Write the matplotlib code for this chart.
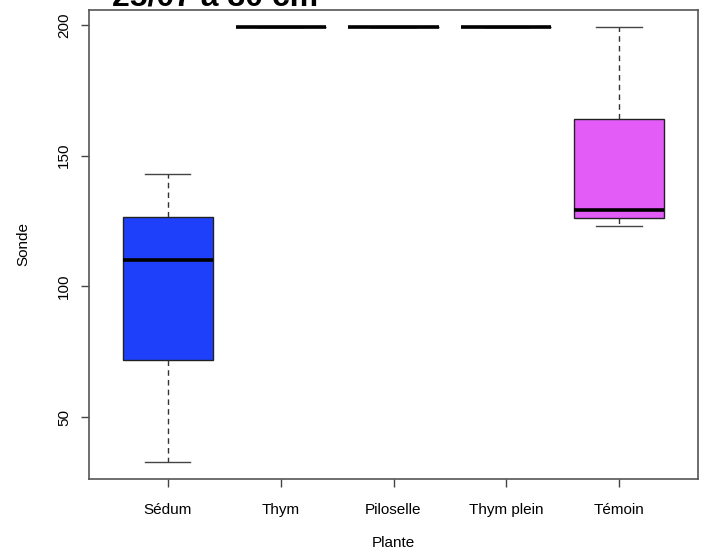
import matplotlib
matplotlib.use("Agg")
import matplotlib.pyplot as plt

plt.rcParams['font.family'] = ['Liberation Sans', 'DejaVu Sans']

categories = ["Sédum", "Thym", "Piloselle", "Thym plein", "Témoin"]
whislo = [33, 199, 199, 199, 123]
q1 = [72, 199, 199, 199, 126]
med = [110, 199, 199, 199, 129]
q3 = [126.5, 199, 199, 199, 164]
whishi = [143, 199, 199, 199, 199]
colors = ["#1E40FA", "#FFFFFF", "#FFFFFF", "#FFFFFF", "#E45CF8"]
yticks = [50, 100, 150, 200]
title = "25/07 à 30 cm"

fig = plt.figure(figsize=(7.07, 5.57), dpi=100)
ax = fig.add_axes([89/707, 78/557, 609/707, 469/557])

stats = []
for i, c in enumerate(categories):
    stats.append(dict(label=c, whislo=whislo[i], q1=q1[i], med=med[i],
                      q3=q3[i], whishi=whishi[i], fliers=[]))

bp = ax.bxp(stats, positions=range(1, 6), widths=0.8, patch_artist=True,
            showfliers=False,
            boxprops=dict(linewidth=1.0, edgecolor='#222222'),
            medianprops=dict(color='black', linewidth=2.6, solid_capstyle='butt'),
            whiskerprops=dict(color='#333333', linewidth=1.0, linestyle=(0, (4, 3))),
            capprops=dict(color='#444444', linewidth=1.0),
            capwidths=0.4)
for patch, col in zip(bp['boxes'], colors):
    patch.set_facecolor(col)

ax.set_xlim(0.3, 5.7)
ax.set_ylim(26.36, 205.64)
ax.set_yticks(yticks)
ax.set_yticklabels([str(v) for v in yticks], rotation=90, va='center')
ax.set_xticks(range(1, 6))
ax.set_xticklabels(categories)
ax.tick_params(axis='both', labelsize=11, color='#444444', length=6, width=1.0)
ax.tick_params(axis='x', pad=11)
ax.tick_params(axis='y', pad=7)
for s in ax.spines.values():
    s.set_color('#555555')
    s.set_linewidth(1.2)

ax.set_xlabel("Plante", fontsize=11, labelpad=14)
ax.set_ylabel("Sonde", fontsize=11, labelpad=19)

fig.text(215/707, 1 - 6/557, title, fontsize=23, fontweight='bold',
         ha='center', va='baseline')

fig.savefig("out.png", dpi=100)
